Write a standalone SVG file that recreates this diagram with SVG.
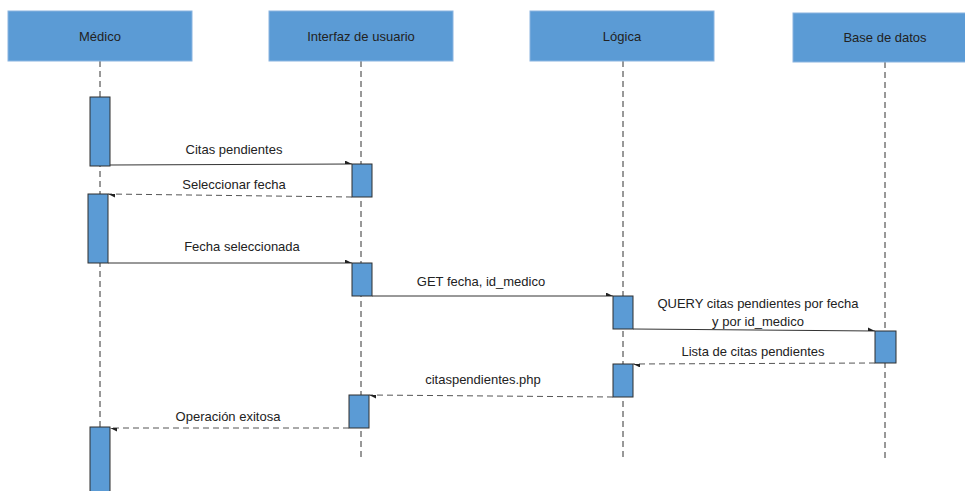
<svg xmlns="http://www.w3.org/2000/svg" width="965" height="491" viewBox="0 0 965 491">
<defs>
<style>
.hdr{fill:#5b9bd5;stroke:#8ab4e0;stroke-width:1}
.act{fill:#5b9bd5;stroke:#2f2f2f;stroke-width:1}
.life{stroke:#333;stroke-width:1;stroke-dasharray:6,4;fill:none}
.msg{stroke:#333;stroke-width:1;fill:none;marker-end:url(#ah)}
.ret{stroke:#555;stroke-width:1;stroke-dasharray:6,4;fill:none;marker-end:url(#ah)}
text{font-family:"Liberation Sans",Arial,sans-serif;font-size:13px;fill:#222;text-anchor:middle}
</style>
<marker id="ah" viewBox="0 0 10 10" refX="10" refY="5" markerWidth="9" markerHeight="7" markerUnits="userSpaceOnUse" orient="auto">
<path d="M0,0 L10,5 L0,5 Z" fill="#222"/>
</marker>
</defs>
<rect width="965" height="491" fill="#fff"/>
<g id="lifelines">
<line class="life" x1="100" y1="61" x2="100" y2="491"/>
<line class="life" x1="361" y1="61" x2="361" y2="461"/>
<line class="life" x1="623" y1="61" x2="623" y2="461"/>
<line class="life" x1="885" y1="62" x2="885" y2="461"/>
</g>
<g id="medico"><rect class="hdr" x="8" y="11" width="184" height="50"/><text x="100" y="41">Médico</text></g>
<g id="interfaz"><rect class="hdr" x="269" y="11" width="184" height="50"/><text x="361" y="41">Interfaz de usuario</text></g>
<g id="logica"><rect class="hdr" x="530" y="11" width="184" height="50"/><text x="622" y="41">Lógica</text></g>
<g id="bd"><rect class="hdr" x="793" y="13" width="184" height="49"/><text x="885" y="42">Base de datos</text></g>
<g id="activations">
<rect class="act" x="90" y="97" width="20" height="69"/>
<rect class="act" x="352" y="164" width="20" height="33"/>
<rect class="act" x="88" y="194" width="20" height="69"/>
<rect class="act" x="352" y="263" width="20" height="33"/>
<rect class="act" x="613" y="296" width="20" height="33"/>
<rect class="act" x="875" y="331" width="21" height="32"/>
<rect class="act" x="613" y="364" width="20" height="33"/>
<rect class="act" x="349" y="395" width="20" height="33"/>
<rect class="act" x="90" y="427" width="20" height="70"/>
</g>
<g id="connectors">
<line class="msg" x1="110" y1="165" x2="352" y2="164"/>
<line class="ret" x1="352" y1="197" x2="108" y2="194"/>
<line class="msg" x1="108" y1="263" x2="352" y2="263"/>
<line class="msg" x1="372" y1="296" x2="613" y2="296"/>
<line class="msg" x1="633" y1="329" x2="875" y2="331"/>
<line class="ret" x1="875" y1="363" x2="633" y2="364"/>
<line class="ret" x1="613" y1="397" x2="369" y2="395"/>
<line class="ret" x1="349" y1="428" x2="110" y2="428"/>
</g>
<g id="labels">
<text x="234" y="154">Citas pendientes</text>
<text x="234" y="189">Seleccionar fecha</text>
<text x="242" y="251">Fecha seleccionada</text>
<text x="481" y="286">GET fecha, id_medico</text>
<text x="758" y="308">QUERY citas pendientes por fecha</text>
<text x="758" y="326">y por id_medico</text>
<text x="753" y="356">Lista de citas pendientes</text>
<text x="483" y="384">citaspendientes.php</text>
<text x="228" y="421">Operación exitosa</text>
</g>
</svg>
